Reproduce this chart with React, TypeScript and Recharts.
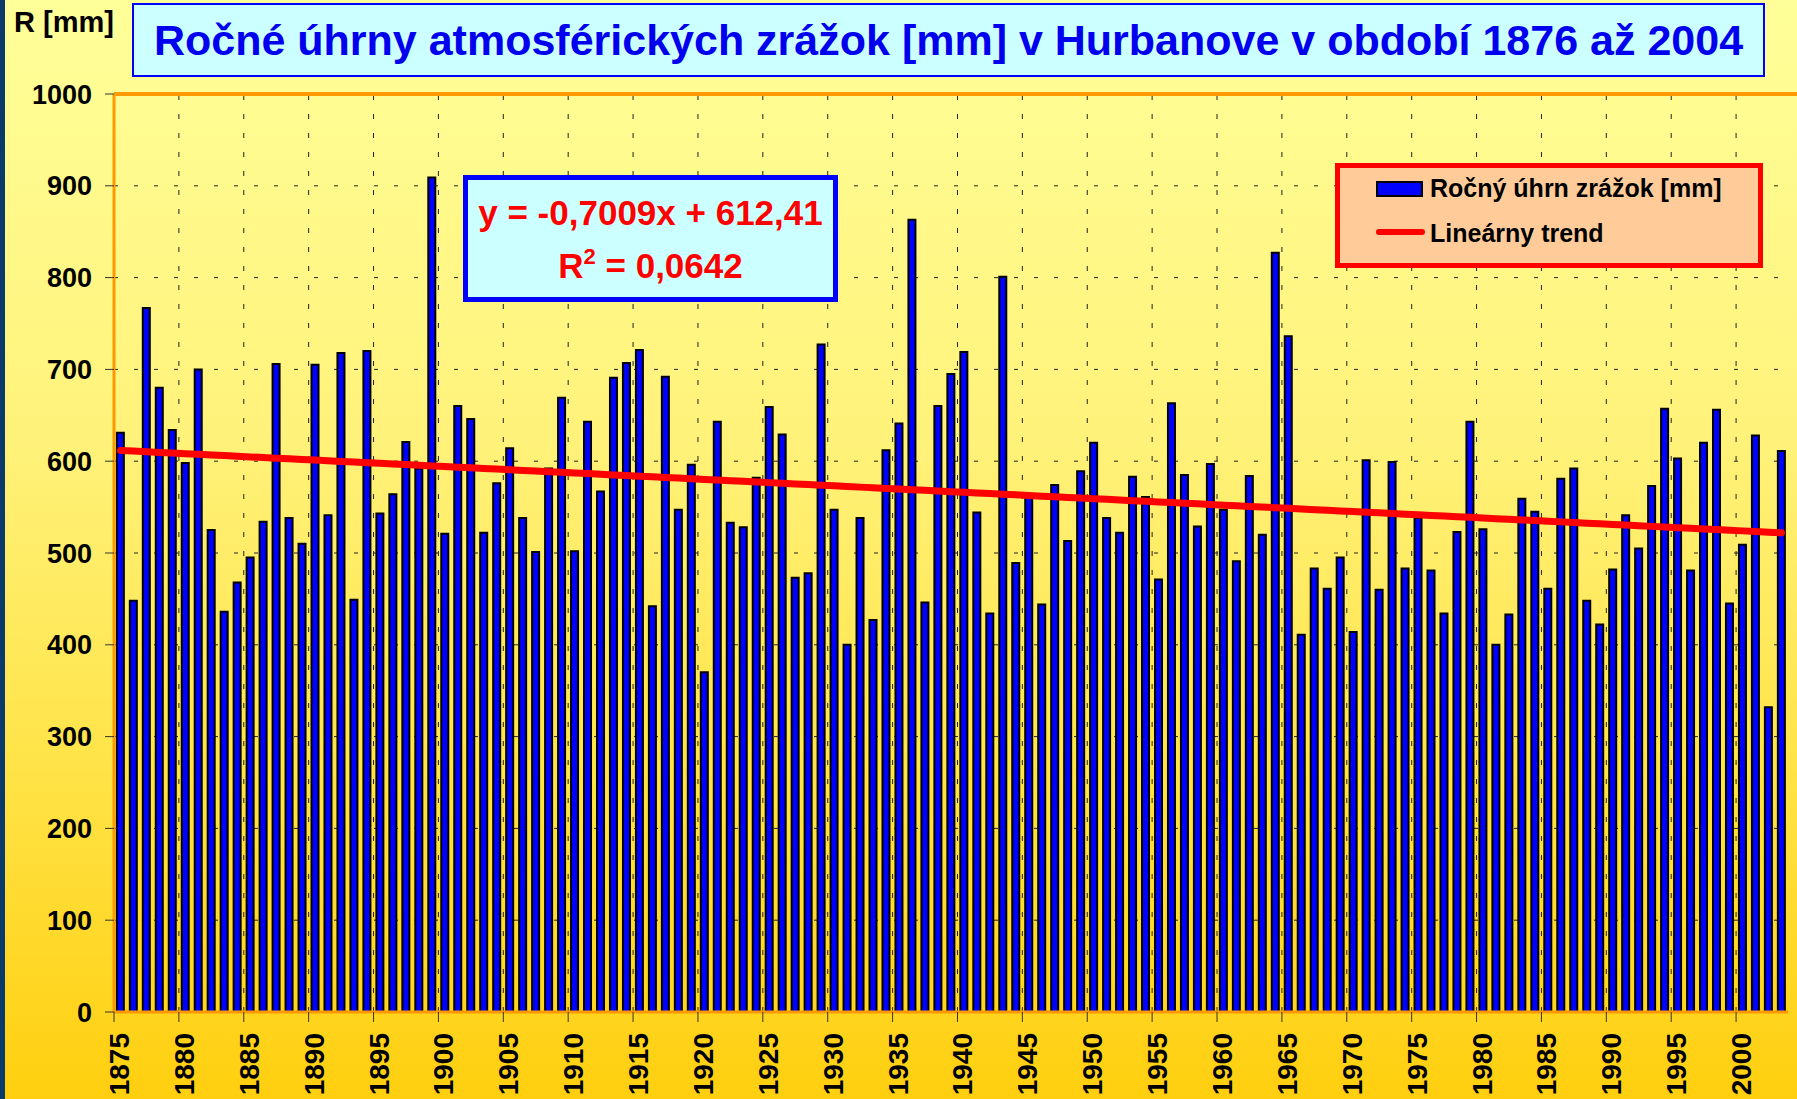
import React from 'react';
import {
  ComposedChart,
  Bar,
  Line,
  XAxis,
  YAxis,
  CartesianGrid,
  ReferenceLine,
} from 'recharts';

// ---- data ----
const START_YEAR = 1876;
// annual precipitation totals [mm], 1876 .. 2004
const PRECIP: number[] = [
  631, 448, 767, 680, // 1876-1879
  634, 598, 700, 525, 436, 468, 495, 534, 706, 538, // 1880s
  510, 705, 541, 718, 449, 720, 543, 564, 621, 592, // 1890s
  909, 521, 660, 646, 522, 576, 614, 538, 501, 592, // 1900s
  669, 502, 643, 567, 691, 707, 721, 442, 692, 547, // 1910s
  596, 370, 643, 533, 528, 582, 659, 629, 473, 478, // 1920s
  727, 547, 400, 538, 427, 612, 641, 863, 446, 660, // 1930s
  695, 719, 544, 434, 801, 489, 561, 444, 574, 513, // 1940s
  589, 620, 538, 522, 583, 561, 471, 663, 585, 529, // 1950s
  597, 547, 491, 584, 520, 827, 736, 411, 483, 461, // 1960s
  495, 414, 601, 460, 599, 483, 538, 481, 434, 523, // 1970s
  643, 526, 400, 433, 559, 545, 461, 581, 592, 448, // 1980s
  422, 482, 541, 505, 573, 657, 603, 481, 620, 656, // 1990s
  445, 509, 628, 332, 611, // 2000-2004
];
const Y_TICKS = [0, 100, 200, 300, 400, 500, 600, 700, 800, 900, 1000];
const X_LABELS = [
  1875, 1880, 1885, 1890, 1895, 1900, 1905, 1910, 1915, 1920, 1925, 1930, 1935,
  1940, 1945, 1950, 1955, 1960, 1965, 1970, 1975, 1980, 1985, 1990, 1995, 2000,
];
const TREND_SLOPE = -0.7009;
const TREND_INTERCEPT = 612.41;

const TITLE = 'Ročné úhrny atmosférických zrážok [mm] v Hurbanove v období 1876 až 2004';
const SERIES_NAME = 'Ročný úhrn zrážok [mm]';
const TREND_NAME = 'Lineárny trend';

const data = PRECIP.map((v, i) => ({
  year: START_YEAR + i,
  value: v,
  trend: TREND_INTERCEPT + TREND_SLOPE * (i + 1),
}));

// ---- layout ----
const W = 1797;
const H = 1099;
const M_TOP = 94;
const M_RIGHT = 9;
const Y_W = 114;
const X_H = 87;
const BW = (W - Y_W - M_RIGHT) / PRECIP.length;
const FONT = '"Liberation Sans", Arial, Helvetica, sans-serif';

const XTick = (props: any) => {
  const { x, y, payload } = props;
  const year = payload.value as number;
  let bx: number | null = null;
  let label = '';
  if (year === START_YEAR && X_LABELS.includes(START_YEAR - 1)) {
    bx = x - BW / 2;
    label = String(START_YEAR - 1);
  } else if (X_LABELS.includes(year)) {
    bx = x + BW / 2;
    label = String(year);
  }
  if (bx === null) return <g />;
  const tx = bx + 15;
  const ty = y + 21;
  return (
    <g>
      <line x1={bx} x2={bx} y1={y} y2={y + 10} stroke="#333" strokeWidth={1} />
      <text
        x={tx}
        y={ty}
        transform={`rotate(-90 ${tx} ${ty})`}
        textAnchor="end"
        fontFamily={FONT}
        fontWeight="bold"
        fontSize={28}
        fill="#000"
      >
        {label}
      </text>
    </g>
  );
};

const GRID_YEARS = X_LABELS.filter((y) => y >= START_YEAR);

export default function App() {
  return (
    <div
      style={{
        position: 'absolute',
        left: 0,
        top: 0,
        width: W,
        height: H,
        overflow: 'hidden',
        fontFamily: FONT,
        background: 'linear-gradient(to bottom, #FFFF99 0%, #FFF27A 40%, #FFE347 70%, #FFCF0F 100%)',
      }}
    >
      <ComposedChart
        width={W}
        height={H}
        data={data}
        margin={{ top: M_TOP, right: M_RIGHT, bottom: 0, left: 0 }}
        barCategoryGap="22%"
      >
        <CartesianGrid vertical={false} stroke="#222" strokeDasharray="4 16" />
        {GRID_YEARS.map((yr) => (
          <ReferenceLine
            key={yr}
            x={yr}
            position="end"
            stroke="#222"
            strokeDasharray="5 14"
          />
        ))}
        <XAxis
          dataKey="year"
          interval={0}
          tick={<XTick />}
          tickLine={false}
          tickSize={0}
          tickMargin={0}
          height={X_H}
          axisLine={{ stroke: '#FF9900', strokeWidth: 3 }}
        />
        <YAxis
          domain={[0, 1000]}
          ticks={Y_TICKS}
          interval={0}
          width={Y_W}
          tickSize={9}
          tickMargin={13}
          tickLine={{ stroke: '#333' }}
          axisLine={{ stroke: '#FF9900', strokeWidth: 3 }}
          tick={{ fontSize: 27, fontWeight: 'bold', fill: '#000', fontFamily: FONT }}
        />
        <ReferenceLine y={1000} stroke="#FF9900" strokeWidth={4} />
        <Bar
          dataKey="value"
          name={SERIES_NAME}
          fill="#0000FF"
          stroke="#000"
          strokeWidth={2}
          isAnimationActive={false}
        />
        <Line
          dataKey="trend"
          name={TREND_NAME}
          type="linear"
          stroke="#FF0000"
          strokeWidth={7}
          strokeLinecap="round"
          dot={false}
          activeDot={false}
          isAnimationActive={false}
        />
        <ReferenceLine y={0} stroke="#5a3a00" strokeWidth={1} />
        <ReferenceLine x={START_YEAR} position="start" stroke="#5a3a00" strokeWidth={1} />
      </ComposedChart>

      {/* top plot border continues to the right edge */}
      <div style={{ position: 'absolute', left: W - M_RIGHT, top: M_TOP - 2, width: M_RIGHT, height: 4, background: '#FF9900' }} />

      {/* left dark strip */}
      <div style={{ position: 'absolute', left: 0, top: 0, width: 5, height: H, background: '#0A3A6A' }} />

      {/* y axis unit */}
      <div
        style={{
          position: 'absolute',
          left: 14,
          top: 8,
          fontSize: 29,
          lineHeight: 1,
          fontWeight: 'bold',
          color: '#000',
          whiteSpace: 'nowrap',
        }}
      >
        R [mm]
      </div>

      {/* title */}
      <div
        style={{
          position: 'absolute',
          left: 132,
          top: 3,
          width: 1633,
          height: 74,
          boxSizing: 'border-box',
          border: '2px solid #0000FF',
          background: '#CCFFFF',
          display: 'flex',
          alignItems: 'center',
          justifyContent: 'center',
          color: '#0000EE',
          fontWeight: 'bold',
          fontSize: 43,
          whiteSpace: 'nowrap',
        }}
      >
        {TITLE}
      </div>

      {/* equation box */}
      <div
        style={{
          position: 'absolute',
          left: 463,
          top: 175,
          width: 375,
          height: 127,
          boxSizing: 'border-box',
          border: '5px solid #0000FF',
          background: '#CCFFFF',
          color: '#FF0000',
          fontWeight: 'bold',
          fontSize: 35,
          textAlign: 'center',
          paddingTop: 6,
          whiteSpace: 'nowrap',
        }}
      >
        <div style={{ lineHeight: '53px' }}>y = -0,7009x + 612,41</div>
        <div style={{ lineHeight: '53px' }}>
          R<span style={{ fontSize: 22, position: 'relative', top: -14 }}>2</span> = 0,0642
        </div>
      </div>

      {/* legend */}
      <div
        style={{
          position: 'absolute',
          left: 1335,
          top: 163,
          width: 428,
          height: 105,
          boxSizing: 'border-box',
          border: '5px solid #FF0000',
          background: '#FFCC99',
          fontWeight: 'bold',
          fontSize: 25,
          color: '#000',
        }}
      >
        <div
          style={{
            position: 'absolute',
            left: 36,
            top: 13,
            width: 47,
            height: 16,
            boxSizing: 'border-box',
            background: '#0000FF',
            border: '2px solid #000',
          }}
        />
        <div style={{ position: 'absolute', left: 90, top: 8, lineHeight: 1, whiteSpace: 'nowrap' }}>
          {SERIES_NAME}
        </div>
        <div
          style={{
            position: 'absolute',
            left: 36,
            top: 61,
            width: 49,
            height: 6,
            borderRadius: 3,
            background: '#FF0000',
          }}
        />
        <div style={{ position: 'absolute', left: 90, top: 53, lineHeight: 1, whiteSpace: 'nowrap' }}>
          {TREND_NAME}
        </div>
      </div>
    </div>
  );
}
